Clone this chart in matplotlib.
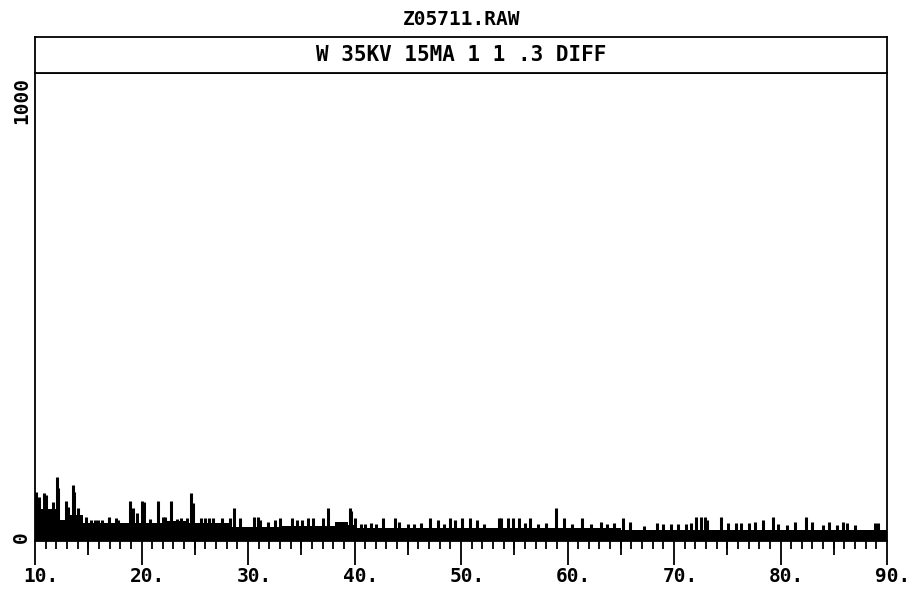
import numpy as np
import matplotlib.pyplot as plt
import matplotlib.transforms as mtransforms

plt.rcParams['font.family'] = ['DejaVu Sans Mono']
plt.rcParams['font.weight'] = 'bold'

# floor of the noise band (step levels between edges, in counts)
floor_edges = [10, 10.6, 12.3, 12.8, 14.5, 22.0, 24.5, 28.5, 33.0, 38.2, 39.4, 40.2, 65.0, 90]
floor_levels = [70, 64, 40, 50, 32, 36, 32, 22, 26, 34, 28, 20, 17]

# spikes sticking out of the band: 2-theta (deg) and counts
spike_x = [10.05, 10.35, 10.85, 11.05, 11.7, 12.05, 12.2, 12.95, 13.1, 13.55, 13.7, 14.0,
           14.8, 15.3, 15.6, 15.9, 16.3, 16.9, 17.6, 17.8, 18.9, 19.2, 19.6, 20.0, 20.2,
           20.8, 21.5, 22.0, 22.2, 22.8, 23.3, 23.7, 24.3, 24.65, 24.8, 25.6, 26.0, 26.3,
           26.7, 27.6, 28.3, 28.7, 29.2, 30.6, 30.9, 31.1, 31.9, 32.5, 33.0, 34.1, 34.6,
           35.1, 35.6, 36.1, 37.0, 37.5, 39.6, 39.7, 40.0, 40.6, 41.0, 41.5, 42.0, 42.7,
           43.8, 44.2, 45.0, 45.6, 46.2, 47.1, 47.8, 48.4, 49.0, 49.4, 50.1, 50.8, 51.5,
           52.2, 53.6, 53.8, 54.4, 54.9, 55.4, 56.0, 56.5, 57.2, 58.0, 58.9, 59.7, 60.4,
           61.4, 62.2, 63.1, 63.7, 64.4, 65.2, 65.9, 67.2, 68.4, 69.0, 69.7, 70.4, 71.1,
           71.6, 72.1, 72.5, 72.9, 73.1, 74.4, 75.1, 75.8, 76.3, 77.0, 77.6, 78.4, 79.3,
           79.8, 80.6, 81.4, 82.4, 83.0, 84.0, 84.6, 85.3, 85.9, 86.2, 87.0, 88.9, 89.2]
spike_y = [103, 92, 100, 96, 80, 137, 112, 82, 68, 120, 104, 66,
           46, 40, 40, 40, 38, 46, 44, 38, 82, 66, 55, 82, 80,
           42, 82, 46, 46, 82, 42, 44, 44, 100, 78, 44, 44, 44,
           44, 44, 44, 66, 44, 46, 46, 40, 34, 38, 44, 44, 38,
           38, 44, 44, 44, 66, 66, 60, 44, 30, 30, 32, 30, 44,
           44, 34, 30, 30, 32, 44, 38, 30, 44, 38, 44, 44, 38,
           30, 44, 44, 44, 44, 44, 32, 44, 30, 32, 66, 44, 30,
           44, 30, 34, 30, 32, 44, 34, 26, 32, 30, 30, 30, 30,
           32, 46, 46, 46, 40, 46, 32, 32, 32, 32, 34, 38, 46,
           30, 28, 34, 46, 34, 28, 34, 28, 34, 32, 28, 32, 32]

xticks = [10, 20, 30, 40, 50, 60, 70, 80, 90]
xlabels = ['10.', '20.', '30.', '40.', '50.', '60.', '70.', '80.', '90.']

fig = plt.figure(figsize=(9.15, 6.03), dpi=100)
ax = fig.add_axes([0.0383, 0.1028, 0.9311, 0.7762])
hdr = fig.add_axes([0.0383, 0.879, 0.9311, 0.0597])

ymin = -9
#noise band and spikes
ax.stairs(floor_levels, floor_edges, baseline=ymin, fill=True, color='black')
ax.vlines(spike_x, ymin, spike_y, colors='black', lw=2.2)

ax.set_xlim(10, 90)
ax.set_ylim(ymin, 1062)

ax.set_xticks(xticks)
ax.set_xticklabels(xlabels, fontsize=14)
ax.set_xticks(np.arange(10, 91, 1), minor=True)
ax.tick_params(axis='x', which='major', direction='out', length=17, width=1.3, pad=2)
ax.tick_params(axis='x', which='minor', direction='out', length=6, width=1.3)
# shift labels so the digits sit on the tick and the dot hangs right
off = mtransforms.ScaledTranslation(6 / 100, 0, fig.dpi_scale_trans)
for lab in ax.get_xticklabels():
    lab.set_transform(lab.get_transform() + off)

# medium ticks at the fives
sec = ax.secondary_xaxis('bottom')
sec.set_xticks([15, 25, 35, 45, 55, 65, 75, 85])
sec.tick_params(direction='out', length=10, width=1.3, labelbottom=False)
sec.spines['bottom'].set_visible(False)

ax.set_yticks([0, 1000])
ax.set_yticklabels(['0', '1000'], rotation=90, va='center', fontsize=14)
ax.tick_params(axis='y', length=0, pad=3)

for s in ax.spines.values():
    s.set_linewidth(1.3)

# header box
hdr.set_xticks([])
hdr.set_yticks([])
for s in hdr.spines.values():
    s.set_linewidth(1.3)
hdr.text(0.5, 0.5, 'W 35KV 15MA 1 1 .3 DIFF', ha='center', va='center', fontsize=15)

fig.text(0.504, 0.967, 'Z05711.RAW', ha='center', va='center', fontsize=14)

plt.savefig('out.png', dpi=100)
